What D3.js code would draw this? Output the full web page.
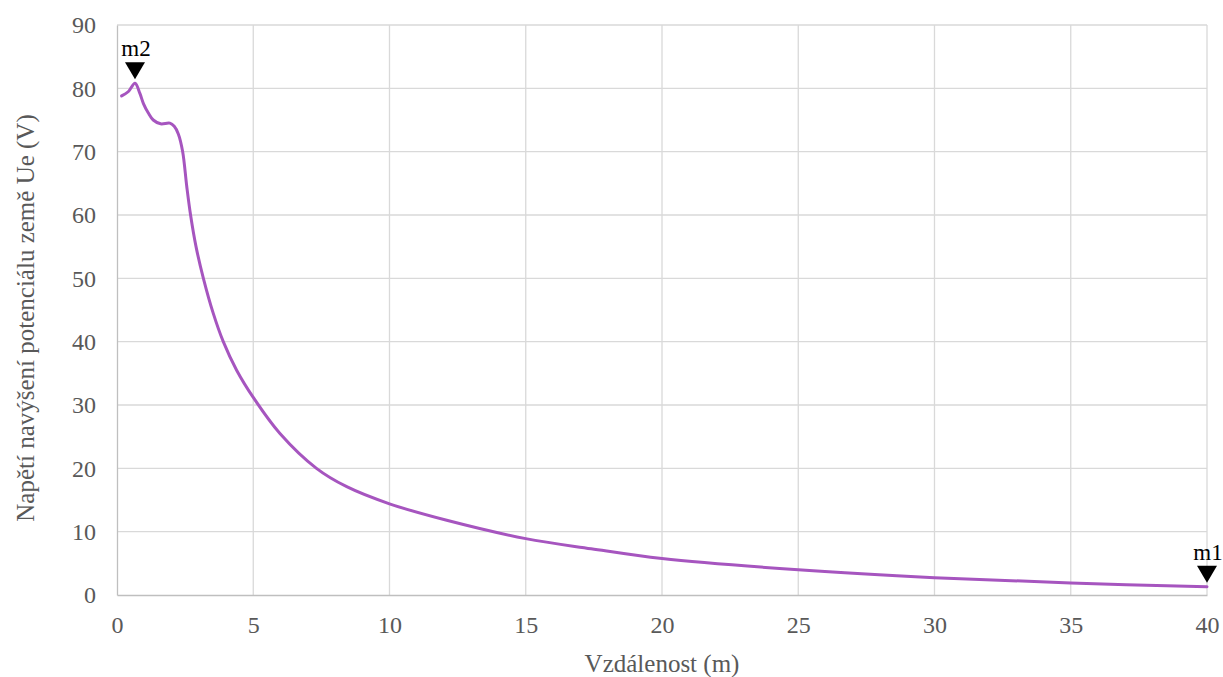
<!DOCTYPE html>
<html>
<head>
<meta charset="utf-8">
<script src="https://cdn.jsdelivr.net/npm/d3@7"></script>
<style>
  html, body { margin: 0; padding: 0; background: #fff; }
  svg { display: block; }
  text { font-family: "Liberation Serif", "Times New Roman", serif; }
</style>
</head>
<body>
<svg id="chart" width="1223" height="677"></svg>
<script>
// ---- data ----
const distance = [0.17, 0.42, 0.66, 0.84, 0.97, 1.15, 1.33, 1.6, 1.94, 2.1, 2.25, 2.41, 2.56, 2.70, 2.90, 3.17, 3.53, 3.90, 4.39, 5.0, 5.98, 7.32, 8.43, 10, 12.1, 15, 17.4, 20, 25, 30, 35, 40];
const voltage  = [78.8, 79.5, 80.8, 79.2, 77.6, 76.1, 75.0, 74.4, 74.5, 74.0, 72.8, 70.0, 64.5, 60.0, 55.0, 50.0, 44.5, 40.0, 35.5, 31.2, 25.5, 20.0, 17.1, 14.4, 11.8, 8.9, 7.3, 5.75, 3.98, 2.74, 1.9, 1.3];
const xTicks = [0, 5, 10, 15, 20, 25, 30, 35, 40];
const yTicks = [0, 10, 20, 30, 40, 50, 60, 70, 80, 90];
const markerNames = ["m2", "m1"];
const markerX = [0.66, 40];
const markerY = [80.8, 1.3];
const xTitle = "Vzdálenost (m)";
const yTitle = "Napětí navýšení potenciálu země Ue (V)";

// ---- layout ----
const W = 1223, H = 677;
const m = { left: 117, right: 16, top: 25, bottom: 82 };
const svg = d3.select("#chart");

const x = d3.scaleLinear().domain([0, 40]).range([m.left, W - m.right]);
const y = d3.scaleLinear().domain([0, 90]).range([H - m.bottom, m.top]);

// gridlines
const grid = svg.append("g");
grid.selectAll("line.h").data(yTicks.filter(d => d > 0)).join("line")
  .attr("x1", x(0)).attr("x2", x(40))
  .attr("y1", d => y(d)).attr("y2", d => y(d))
  .attr("stroke", "#d9d9d9").attr("stroke-width", 1.3);
grid.selectAll("line.v").data(xTicks.filter(d => d > 0)).join("line")
  .attr("y1", y(0)).attr("y2", y(90))
  .attr("x1", d => x(d)).attr("x2", d => x(d))
  .attr("stroke", "#d9d9d9").attr("stroke-width", 1.3);

// axes
const xAxis = d3.axisBottom(x).tickValues(xTicks).tickSize(0).tickPadding(21).tickFormat(d3.format("d"));
const yAxis = d3.axisLeft(y).tickValues(yTicks).tickSize(0).tickPadding(21).tickFormat(d3.format("d"));

const gx = svg.append("g").attr("transform", `translate(0,${y(0)})`).call(xAxis);
const gy = svg.append("g").attr("transform", `translate(${x(0)},0)`).call(yAxis);
[gx, gy].forEach(g => {
  g.select(".domain").attr("stroke", "#bfbfbf").attr("stroke-width", 1.3);
  g.selectAll("text").attr("fill", "#595959").attr("font-size", 24)
    .style("font-family", '"Liberation Serif", "Times New Roman", serif');
});

// axis titles
svg.append("text")
  .attr("x", (x(0) + x(40)) / 2).attr("y", 672)
  .attr("text-anchor", "middle").attr("fill", "#595959").attr("font-size", 25)
  .text(xTitle);
svg.append("text")
  .attr("transform", `translate(34,${(y(0) + y(90)) / 2 + 8}) rotate(-90)`)
  .attr("text-anchor", "middle").attr("fill", "#595959").attr("font-size", 25)
  .text(yTitle);

// line
const pts = distance.map((d, i) => [d, voltage[i]]);
const line = d3.line().x(d => x(d[0])).y(d => y(d[1])).curve(d3.curveCatmullRom.alpha(0.5));
svg.append("path").datum(pts)
  .attr("d", line)
  .attr("fill", "none")
  .attr("stroke", "#a655bf")
  .attr("stroke-width", 3)
  .attr("stroke-linejoin", "round")
  .attr("stroke-linecap", "round");

// markers
const mk = svg.append("g");
markerNames.forEach((name, i) => {
  const px = x(markerX[i]), py = y(markerY[i]) - 4;
  mk.append("path")
    .attr("d", `M${px - 10},${py - 17} L${px + 10},${py - 17} L${px},${py} Z`)
    .attr("fill", "#000");
  mk.append("text")
    .attr("x", px + 1).attr("y", py - 23)
    .attr("text-anchor", "middle").attr("font-size", 23).attr("fill", "#000")
    .text(name);
});
</script>
</body>
</html>
